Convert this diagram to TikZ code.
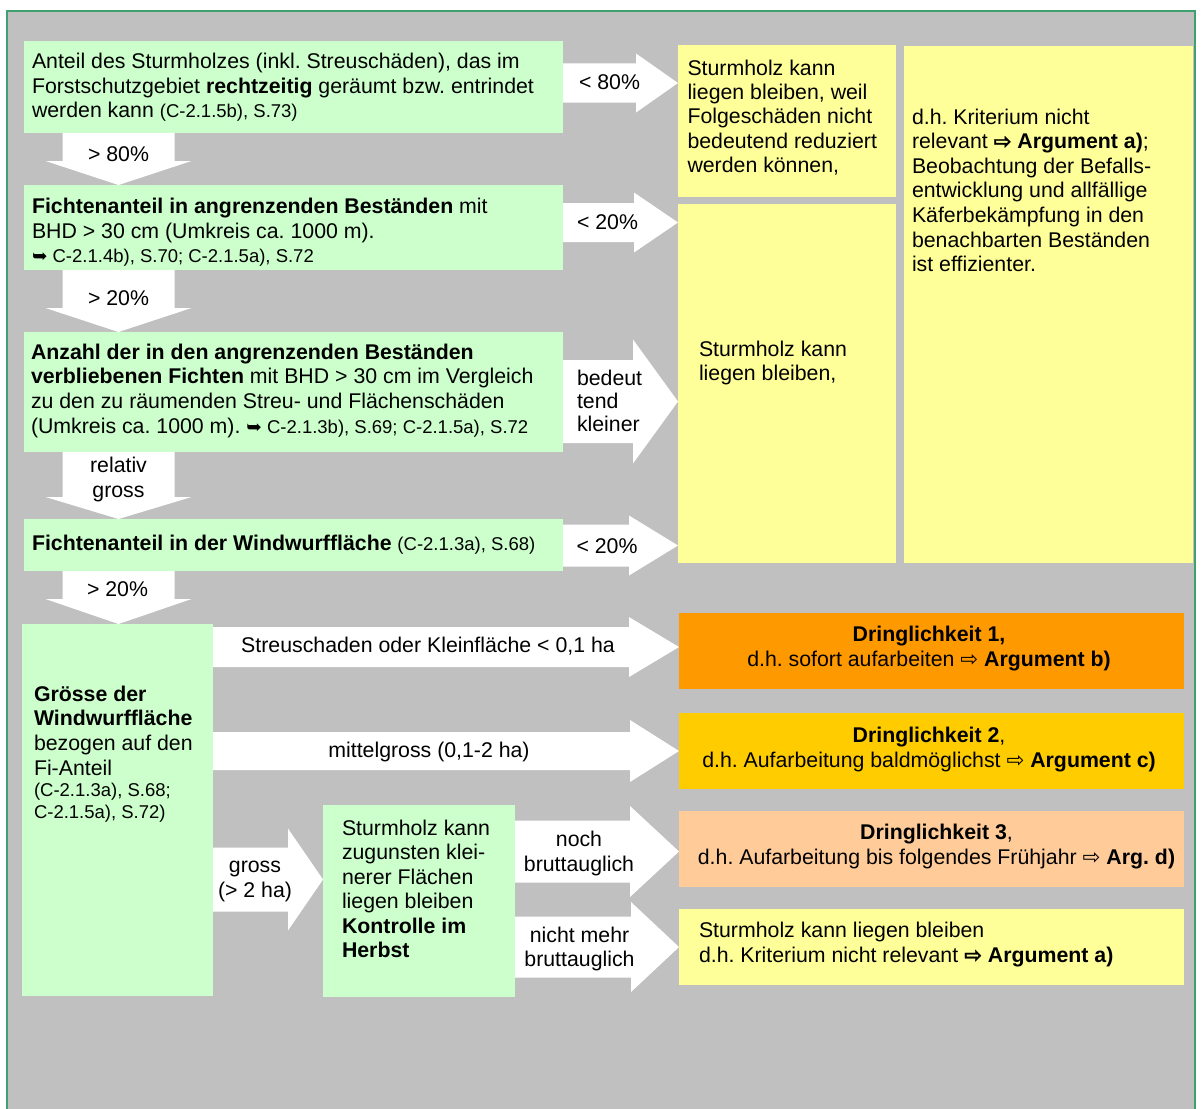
\documentclass[tikz,border=0pt]{standalone}
\usepackage{fontspec}
\setmainfont{Liberation Sans}
\newfontfamily\dv{DejaVu Sans}
\newfontfamily\dvb[FakeBold=1.6]{DejaVu Sans Bold}
\usetikzlibrary{calc}
\definecolor{bggray}{HTML}{C0C0C0}
\definecolor{lgreen}{HTML}{CCFFCC}
\definecolor{lyellow}{HTML}{FFFF99}
\definecolor{dorange}{HTML}{FF9900}
\definecolor{dgold}{HTML}{FFCC00}
\definecolor{dpeach}{HTML}{FFCC99}
\definecolor{bgreen}{RGB}{64,160,112}
\newcommand{\sm}{\fontsize{18.5}{24.5}\selectfont}
\newcommand{\ra}{{\dv ⇨}}
\newcommand{\rab}{{\dvb ⇨}}
\newcommand{\hk}{{\dv ➥}}
% box: name, colour, x1, y1, x2, y2 (pixels, y downward)
\newcommand{\boxnode}[6]{\node[boxshape, fill=#2, minimum width={(#5-#3)*1pt}, minimum height={(#6-#4)*1pt}] (#1) at (#3,-#4) {};}
% multi-line text: name, x, first baseline, baselineskip, align, anchor, text
\newcommand{\mltext}[7]{\node[inner sep=0pt, outer sep=0pt, font=\fontsize{21.3}{#4}\selectfont, align=#5, anchor=#6] (#1) at (#2,{-(#3)+0.7*(#4)}) {\strut #7};}
% horizontal block arrow: src, dst, y centre, shaft half, head half, head length
\newcommand{\harr}[6]{\fill[arrowfill] let \p1=(#1.east), \p2=(#2.west) in
 (\x1,{-(#3)+(#4)}) -- ({\x2-(#6)*1pt},{-(#3)+(#4)}) -- ({\x2-(#6)*1pt},{-(#3)+(#5)}) -- (\x2,{-(#3)}) -- ({\x2-(#6)*1pt},{-(#3)-(#5)}) -- ({\x2-(#6)*1pt},{-(#3)-(#4)}) -- (\x1,{-(#3)-(#4)}) -- cycle;}
% vertical block arrow: src, dst, x centre, shaft half, head half, head length
\newcommand{\varr}[6]{\fill[arrowfill] let \p1=(#1.south), \p2=(#2.north) in
 ({#3-(#4)},\y1) -- ({#3-(#4)},{\y2+(#6)*1pt}) -- ({#3-(#5)},{\y2+(#6)*1pt}) -- (#3,\y2) -- ({#3+(#5)},{\y2+(#6)*1pt}) -- ({#3+(#4)},{\y2+(#6)*1pt}) -- ({#3+(#4)},\y1) -- cycle;}
\tikzset{
 boxshape/.style={draw=none, inner sep=0pt, outer sep=0pt, anchor=north west, rectangle},
 arrowfill/.style={fill=white},
 lbl/.style={inner sep=0pt, outer sep=0pt, font=\fontsize{21.3}{24.5}\selectfont, anchor=base},
}
\begin{document}
\frenchspacing
\begin{tikzpicture}[x=1pt,y=1pt]
\useasboundingbox (0,0) rectangle (1201,-1108);
\clip (0,0) rectangle (1201,-1108);
\fill[white] (0,0) rectangle (1201,-1108);
\draw[bgreen, line width=2.5pt, fill=bggray] (7,-11) rectangle (1195,-1130);

% green boxes
\boxnode{b1}{lgreen}{24}{41}{563}{133}
\boxnode{b2}{lgreen}{24}{185}{563}{270}
\boxnode{b3}{lgreen}{24}{332}{563}{452}
\boxnode{b4}{lgreen}{24}{519}{563}{571}
\boxnode{b5}{lgreen}{22}{624}{213}{996}
\boxnode{b6}{lgreen}{323}{805}{515}{997}
% yellow / coloured boxes
\boxnode{y1}{lyellow}{678}{45}{896}{197}
\boxnode{y2}{lyellow}{678}{204}{896}{563}
\boxnode{y3}{lyellow}{904}{46}{1193}{563}
\boxnode{d1}{dorange}{679}{613}{1184}{689}
\boxnode{d2}{dgold}{679}{713}{1184}{789}
\boxnode{d3}{dpeach}{679}{811}{1184}{887}
\boxnode{y4}{lyellow}{679}{909}{1184}{985}

% vertical block arrows
\varr{b1}{b2}{118.5}{56}{73}{24}
\varr{b2}{b3}{118.5}{56}{73}{24}
\varr{b3}{b4}{118.5}{56}{73}{22}
\varr{b4}{b5}{118.5}{56}{73}{25}
% horizontal block arrows
\harr{b1}{y1}{83}{19.5}{29.5}{42}
\harr{b2}{y2}{222.5}{19.5}{30}{44}
\harr{b3}{y2}{401.5}{41.5}{62}{45}
\harr{b4}{y2}{545.5}{21}{30}{49}
\harr{b5}{d1}{647}{20}{30}{50}
\harr{b5}{d2}{751}{19}{31}{49}
\harr{b5}{b6}{879.5}{32}{51}{35}
\harr{b6}{d3}{851.5}{31}{45.5}{49}
\harr{b6}{y4}{947}{30.5}{45}{48}

% arrow labels
\node[lbl] (la1) at (118.5,-161) {> 80\%};
\node[lbl] (la2) at (118.5,-305) {> 20\%};
\mltext{la3}{118.5}{472.7}{24.5}{center}{north}{relativ\\gross}
\node[lbl] (la4) at (117.5,-596) {> 20\%};
\node[lbl] (lh1) at (609.5,-89) {< 80\%};
\node[lbl] (lh2) at (607.5,-229) {< 20\%};
\mltext{lh3}{577}{385}{23}{left}{north west}{bedeut\\tend\\kleiner}
\node[lbl] (lh4) at (607,-553) {< 20\%};
\node[lbl] (lh5) at (428,-652.7) {Streuschaden oder Kleinfläche < 0,1 ha};
\node[lbl] (lh6) at (429,-757) {mittelgross (0,1-2 ha)};
\mltext{lh7}{255}{872.7}{25}{center}{north}{gross\\(> 2 ha)}
\mltext{lh8}{579}{846.7}{25}{center}{north}{noch\\bruttauglich}
\mltext{lh9}{579.5}{942.7}{24}{center}{north}{nicht mehr\\bruttauglich}

% box texts
\mltext{t1}{32}{68.5}{24.5}{left}{north west}{Anteil des Sturmholzes (inkl. Streuschäden), das im\\Forstschutzgebiet \textbf{rechtzeitig} geräumt bzw. entrindet\\werden kann {\sm (C-2.1.5b), S.73)}}
\mltext{t2}{32}{213.3}{24.8}{left}{north west}{\textbf{Fichtenanteil in angrenzenden Beständen} mit\\BHD > 30 cm (Umkreis ca. 1000 m).\\{\sm\hk{} C-2.1.4b), S.70; C-2.1.5a), S.72}}
\mltext{t3}{31}{359.3}{24.67}{left}{north west}{\textbf{Anzahl der in den angrenzenden Beständen}\\\textbf{verbliebenen Fichten} mit BHD > 30 cm im Vergleich\\zu den zu räumenden Streu- und Flächenschäden\\(Umkreis ca. 1000 m). {\sm\hk{} C-2.1.3b), S.69; C-2.1.5a), S.72}}
\mltext{t4}{32}{550}{24.5}{left}{north west}{\textbf{Fichtenanteil in der Windwurffläche} {\sm (C-2.1.3a), S.68)}}
\mltext{t5}{34}{701}{24.67}{left}{north west}{\textbf{Grösse der}\\\textbf{Windwurffläche}\\bezogen auf den\\Fi-Anteil}
\node[inner sep=0pt, outer sep=0pt, font=\fontsize{18.5}{21.6}\selectfont, align=left, anchor=north west] (t5b) at (34,{-796.7+0.7*21.6}) {\strut(C-2.1.3a), S.68;\\C-2.1.5a), S.72)};
\mltext{t6}{342}{835}{24.5}{left}{north west}{Sturmholz kann\\zugunsten klei-\\nerer Flächen\\liegen bleiben\\\textbf{Kontrolle im}\\\textbf{Herbst}}
\mltext{ty1}{687.5}{75}{24.4}{left}{north west}{Sturmholz kann\\liegen bleiben, weil\\Folgeschäden nicht\\bedeutend reduziert\\werden können,}
\mltext{ty2}{699}{356}{24}{left}{north west}{Sturmholz kann\\liegen bleiben,}
\mltext{ty3}{912}{124}{24.6}{left}{north west}{d.h. Kriterium nicht\\relevant \rab{} \textbf{Argument a)};\\Beobachtung der Befalls-\\entwicklung und allfällige\\Käferbekämpfung in den\\benachbarten Beständen\\ist effizienter.}
\mltext{td1}{929}{641.7}{25}{center}{north}{\textbf{Dringlichkeit 1,}\\d.h. sofort aufarbeiten \ra{} \textbf{Argument b)}}
\mltext{td2}{929}{742.7}{25}{center}{north}{\textbf{Dringlichkeit 2},\\d.h. Aufarbeitung baldmöglichst \ra{} \textbf{Argument c)}}
\mltext{td3}{936.5}{839.3}{25.5}{center}{north}{\textbf{Dringlichkeit 3},\\d.h. Aufarbeitung bis folgendes Frühjahr \ra{} \textbf{Arg. d)}}
\mltext{ty4}{699}{937.3}{25}{left}{north west}{Sturmholz kann liegen bleiben\\d.h. Kriterium nicht relevant \rab{} \textbf{Argument a)}}
\end{tikzpicture}
\end{document}
